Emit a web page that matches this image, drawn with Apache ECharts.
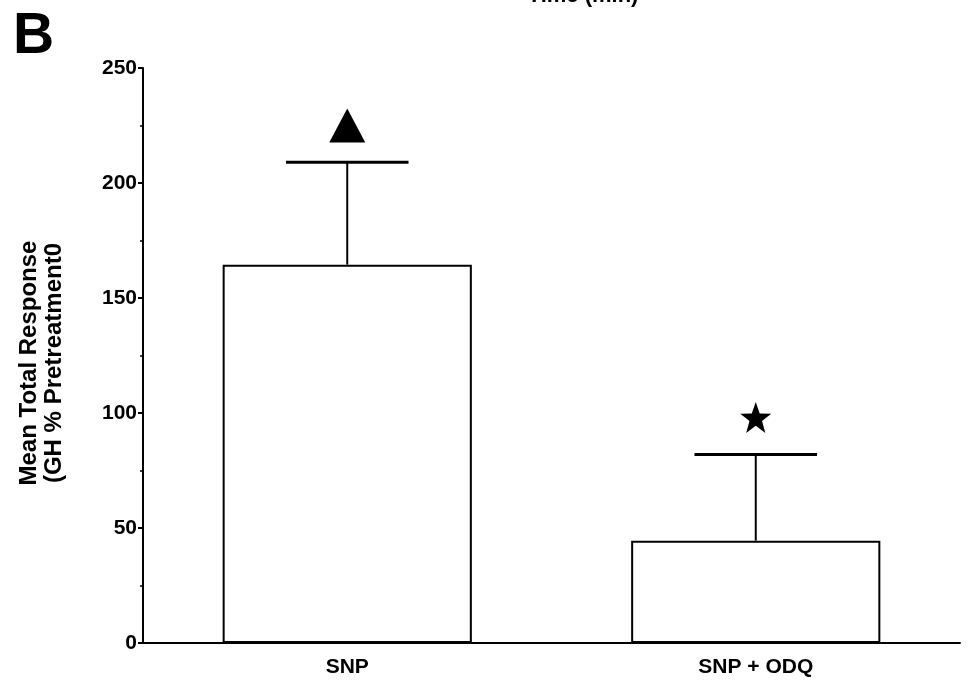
<!DOCTYPE html>
<html>
<head>
<meta charset="utf-8">
<script src="https://cdn.jsdelivr.net/npm/echarts@6/dist/echarts.min.js"></script>
<style>
html,body{margin:0;padding:0;background:#fff;}
#chart{width:972px;height:688px;}
</style>
</head>
<body>
<div id="chart"></div>
<script>
var categories = ['SNP', 'SNP + ODQ'];
var means = [164.5, 44.5];
var errors = [44.5, 37.5];
var markerValues = [225, 98];
var markerSymbols = ['triangle', 'star'];
var yTicks = { min: 0, max: 250, interval: 50 };

var FONT = '"Liberation Sans", Arial, Helvetica, sans-serif';
var STAR = 'path://M50,3 L62,36 L97,37 L69,58 L79,93 L50,72 L21,93 L31,58 L3,37 L38,36 Z';

var chart = echarts.init(document.getElementById('chart'));

var errData = categories.map(function (c, i) { return [i, means[i], means[i] + errors[i]]; });
var triData = [], starData = [];
categories.forEach(function (c, i) {
  if (markerSymbols[i] === 'triangle') triData.push([i, markerValues[i]]);
  else starData.push([i, markerValues[i]]);
});

chart.setOption({
  animation: false,
  backgroundColor: '#fff',
  grid: { left: 143, right: 12, top: 68, bottom: 45 },
  graphic: [
    { type: 'text', left: 13, top: 9, style: { text: 'B', font: 'bold 57px ' + FONT, fill: '#000' } },
    { type: 'text', x: 583, y: 7, style: { text: 'Time (min)', font: 'bold 22px ' + FONT, fill: '#000', align: 'center', verticalAlign: 'bottom' } },
    { type: 'text', x: 42, y: 363, rotation: Math.PI / 2,
      style: { text: 'Mean Total Response\n(GH % Pretreatment0', font: 'bold 24px ' + FONT, lineHeight: 25, fill: '#000', align: 'center', verticalAlign: 'middle' } }
  ],
  xAxis: {
    type: 'category',
    data: categories,
    axisLine: { lineStyle: { color: '#000', width: 2 } },
    axisTick: { show: false },
    axisLabel: { color: '#000', fontFamily: FONT, fontWeight: 'bold', fontSize: 21, margin: 14 }
  },
  yAxis: {
    type: 'value',
    min: yTicks.min, max: yTicks.max, interval: yTicks.interval,
    axisLine: { show: true, lineStyle: { color: '#000', width: 2 } },
    axisTick: { show: true, length: 5, lineStyle: { color: '#000', width: 2 } },
    minorTick: { show: true, splitNumber: 2, length: 3, lineStyle: { color: '#000', width: 1.5 } },
    splitLine: { show: false },
    axisLabel: { color: '#000', fontFamily: FONT, fontWeight: 'bold', fontSize: 21, margin: 6 }
  },
  series: [
    {
      type: 'bar',
      data: means,
      barWidth: '61%',
      itemStyle: { color: '#fff', borderColor: '#000', borderWidth: 2 },
      z: 2
    },
    {
      type: 'custom',
      data: errData,
      z: 3,
      renderItem: function (params, api) {
        var x = api.value(0);
        var p0 = api.coord([x, api.value(1)]);
        var p1 = api.coord([x, api.value(2)]);
        var half = api.size([1, 0])[0] * 0.15;
        return {
          type: 'group',
          children: [
            { type: 'line', shape: { x1: p0[0], y1: p0[1], x2: p1[0], y2: p1[1] }, style: { stroke: '#000', lineWidth: 2 } },
            { type: 'line', shape: { x1: p1[0] - half, y1: p1[1], x2: p1[0] + half, y2: p1[1] }, style: { stroke: '#000', lineWidth: 3 } }
          ]
        };
      }
    },
    {
      type: 'scatter',
      data: triData,
      symbol: 'triangle',
      symbolSize: [36, 34],
      itemStyle: { color: '#000', opacity: 1 },
      z: 4
    },
    {
      type: 'scatter',
      data: starData,
      symbol: STAR,
      symbolSize: 31,
      itemStyle: { color: '#000', opacity: 1 },
      z: 4
    }
  ]
});
</script>
</body>
</html>
